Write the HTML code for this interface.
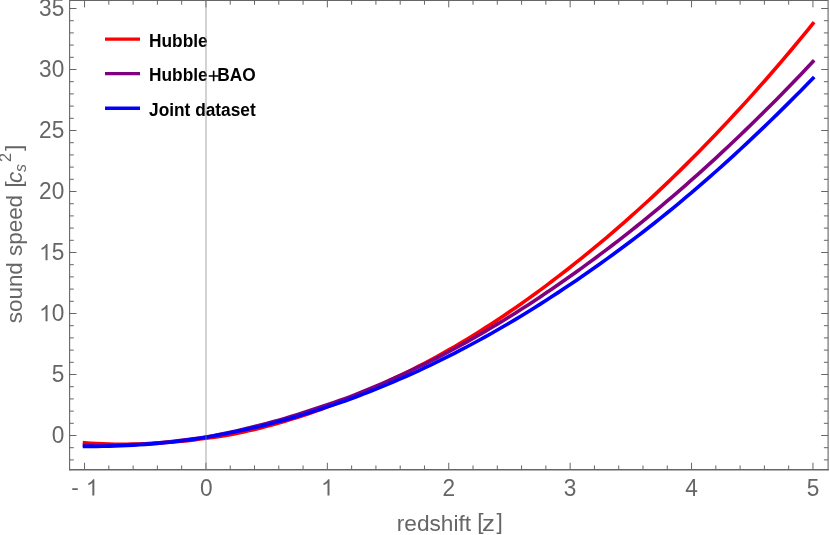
<!DOCTYPE html>
<html><head><meta charset="utf-8"><title>sound speed</title>
<style>html,body{margin:0;padding:0;background:#fff}svg{display:block;will-change:transform}text{font-family:"Liberation Sans",sans-serif}</style></head><body>
<svg width="830" height="535" viewBox="0 0 830 535">
<rect width="830" height="535" fill="#fff"/>
<polyline points="84.55,442.70 90.62,443.20 96.69,443.61 102.76,443.90 108.83,444.10 114.90,444.22 120.97,444.27 127.04,444.24 133.11,444.15 139.18,443.98 145.25,443.76 151.32,443.48 157.39,443.13 163.46,442.73 169.53,442.26 175.60,441.75 181.67,441.22 187.74,440.63 193.81,439.88 199.88,439.05 205.95,438.16 212.02,437.43 218.09,436.75 224.16,435.73 230.23,434.61 236.30,433.42 242.37,432.16 248.44,430.83 254.51,429.43 260.58,427.94 266.65,426.36 272.72,424.71 278.79,422.99 284.86,421.21 290.93,419.38 297.00,417.48 303.07,415.52 309.14,413.48 315.21,411.38 321.28,409.20 327.35,406.92 333.42,404.53 339.49,402.09 345.56,399.63 351.63,397.18 357.70,394.70 363.77,392.16 369.84,389.56 375.91,386.89 381.98,384.15 388.05,381.35 394.12,378.49 400.19,375.56 406.26,372.57 412.33,369.52 418.40,366.42 424.47,363.26 430.54,360.03 436.61,356.74 442.68,353.38 448.75,349.94 454.82,346.44 460.89,342.86 466.96,339.22 473.03,335.51 479.10,331.73 485.17,327.89 491.24,323.98 497.31,320.00 503.38,315.97 509.45,311.86 515.52,307.69 521.59,303.45 527.66,299.15 533.73,294.79 539.80,290.36 545.87,285.87 551.94,281.31 558.01,276.69 564.08,272.00 570.15,267.25 576.22,262.44 582.29,257.58 588.36,252.65 594.43,247.67 600.50,242.62 606.57,237.51 612.64,232.35 618.71,227.11 624.78,221.82 630.85,216.46 636.92,211.03 642.99,205.53 649.06,199.97 655.13,194.34 661.20,188.64 667.27,182.87 673.34,177.03 679.41,171.11 685.48,165.13 691.55,159.08 697.62,152.96 703.69,146.78 709.76,140.53 715.83,134.21 721.90,127.82 727.97,121.37 734.04,114.84 740.11,108.25 746.18,101.59 752.25,94.87 758.32,88.07 764.39,81.20 770.46,74.26 776.53,67.26 782.60,60.17 788.67,53.00 794.74,45.75 800.81,38.43 806.88,31.03 812.95,23.57" fill="none" stroke="#ff0000" stroke-width="3.6" stroke-linecap="square" stroke-linejoin="round"/>
<polyline points="84.55,445.32 90.62,445.43 96.69,445.48 102.76,445.48 108.83,445.42 114.90,445.30 120.97,445.13 127.04,444.91 133.11,444.63 139.18,444.29 145.25,443.90 151.32,443.46 157.39,442.95 163.46,442.40 169.53,441.78 175.60,441.12 181.67,440.39 187.74,439.61 193.81,438.78 199.88,437.91 205.95,436.95 212.02,435.91 218.09,434.81 224.16,433.64 230.23,432.34 236.30,430.95 242.37,429.50 248.44,428.01 254.51,426.53 260.58,425.01 266.65,423.44 272.72,421.81 278.79,420.13 284.86,418.38 290.93,416.57 297.00,414.69 303.07,412.76 309.14,410.77 315.21,408.75 321.28,406.69 327.35,404.66 333.42,402.63 339.49,400.56 345.56,398.40 351.63,396.11 357.70,393.71 363.77,391.25 369.84,388.74 375.91,386.16 381.98,383.54 388.05,380.88 394.12,378.18 400.19,375.45 406.26,372.67 412.33,369.86 418.40,366.99 424.47,364.07 430.54,361.09 436.61,358.05 442.68,354.94 448.75,351.75 454.82,348.49 460.89,345.18 466.96,341.81 473.03,338.39 479.10,334.91 485.17,331.38 491.24,327.80 497.31,324.16 503.38,320.46 509.45,316.71 515.52,312.91 521.59,309.05 527.66,305.14 533.73,301.18 539.80,297.17 545.87,293.10 551.94,288.98 558.01,284.80 564.08,280.58 570.15,276.30 576.22,271.97 582.29,267.60 588.36,263.17 594.43,258.70 600.50,254.18 606.57,249.61 612.64,244.99 618.71,240.31 624.78,235.59 630.85,230.81 636.92,225.98 642.99,221.09 649.06,216.15 655.13,211.15 661.20,206.10 667.27,200.99 673.34,195.82 679.41,190.60 685.48,185.31 691.55,179.97 697.62,174.58 703.69,169.12 709.76,163.61 715.83,158.05 721.90,152.43 727.97,146.75 734.04,141.02 740.11,135.24 746.18,129.40 752.25,123.51 758.32,117.57 764.39,111.57 770.46,105.52 776.53,99.43 782.60,93.27 788.67,87.05 794.74,80.78 800.81,74.45 806.88,68.06 812.95,61.63" fill="none" stroke="#800080" stroke-width="3.6" stroke-linecap="square" stroke-linejoin="round"/>
<polyline points="84.55,446.37 90.62,446.38 96.69,446.35 102.76,446.27 108.83,446.14 114.90,445.96 120.97,445.73 127.04,445.46 133.11,445.13 139.18,444.75 145.25,444.33 151.32,443.86 157.39,443.35 163.46,442.80 169.53,442.19 175.60,441.53 181.67,440.80 187.74,440.00 193.81,439.13 199.88,438.20 205.95,437.23 212.02,436.20 218.09,435.12 224.16,434.00 230.23,432.82 236.30,431.59 242.37,430.31 248.44,428.98 254.51,427.59 260.58,426.16 266.65,424.67 272.72,423.13 278.79,421.54 284.86,419.89 290.93,418.18 297.00,416.42 303.07,414.61 309.14,412.75 315.21,410.85 321.28,408.89 327.35,406.89 333.42,404.86 339.49,402.80 345.56,400.70 351.63,398.51 357.70,396.25 363.77,393.92 369.84,391.54 375.91,389.10 381.98,386.62 388.05,384.10 394.12,381.54 400.19,378.92 406.26,376.26 412.33,373.54 418.40,370.77 424.47,367.95 430.54,365.08 436.61,362.15 442.68,359.18 448.75,356.15 454.82,353.07 460.89,349.93 466.96,346.74 473.03,343.50 479.10,340.21 485.17,336.86 491.24,333.46 497.31,330.00 503.38,326.50 509.45,322.94 515.52,319.33 521.59,315.67 527.66,311.95 533.73,308.19 539.80,304.37 545.87,300.50 551.94,296.59 558.01,292.62 564.08,288.60 570.15,284.53 576.22,280.41 582.29,276.25 588.36,272.04 594.43,267.79 600.50,263.49 606.57,259.14 612.64,254.74 618.71,250.29 624.78,245.79 630.85,241.24 636.92,236.63 642.99,231.97 649.06,227.25 655.13,222.48 661.20,217.65 667.27,212.76 673.34,207.81 679.41,202.81 685.48,197.74 691.55,192.61 697.62,187.42 703.69,182.18 709.76,176.87 715.83,171.51 721.90,166.09 727.97,160.62 734.04,155.09 740.11,149.50 746.18,143.86 752.25,138.17 758.32,132.42 764.39,126.62 770.46,120.77 776.53,114.87 782.60,108.90 788.67,102.88 794.74,96.81 800.81,90.67 806.88,84.49 812.95,78.24" fill="none" stroke="#0000ff" stroke-width="3.6" stroke-linecap="square" stroke-linejoin="round"/>
<path d="M84.55 469.65v-6.9M84.55 0.5v6.9M108.83 469.65v-4.2M108.83 0.5v4.2M133.11 469.65v-4.2M133.11 0.5v4.2M157.39 469.65v-4.2M157.39 0.5v4.2M181.67 469.65v-4.2M181.67 0.5v4.2M205.95 469.65v-6.9M205.95 0.5v6.9M230.23 469.65v-4.2M230.23 0.5v4.2M254.51 469.65v-4.2M254.51 0.5v4.2M278.79 469.65v-4.2M278.79 0.5v4.2M303.07 469.65v-4.2M303.07 0.5v4.2M327.35 469.65v-6.9M327.35 0.5v6.9M351.63 469.65v-4.2M351.63 0.5v4.2M375.91 469.65v-4.2M375.91 0.5v4.2M400.19 469.65v-4.2M400.19 0.5v4.2M424.47 469.65v-4.2M424.47 0.5v4.2M448.75 469.65v-6.9M448.75 0.5v6.9M473.03 469.65v-4.2M473.03 0.5v4.2M497.31 469.65v-4.2M497.31 0.5v4.2M521.59 469.65v-4.2M521.59 0.5v4.2M545.87 469.65v-4.2M545.87 0.5v4.2M570.15 469.65v-6.9M570.15 0.5v6.9M594.43 469.65v-4.2M594.43 0.5v4.2M618.71 469.65v-4.2M618.71 0.5v4.2M642.99 469.65v-4.2M642.99 0.5v4.2M667.27 469.65v-4.2M667.27 0.5v4.2M691.55 469.65v-6.9M691.55 0.5v6.9M715.83 469.65v-4.2M715.83 0.5v4.2M740.11 469.65v-4.2M740.11 0.5v4.2M764.39 469.65v-4.2M764.39 0.5v4.2M788.67 469.65v-4.2M788.67 0.5v4.2M812.95 469.65v-6.9M812.95 0.5v6.9M69.6 459.90h4.2M828.1 459.90h-4.2M69.6 447.70h4.2M828.1 447.70h-4.2M69.6 435.50h6.9M828.1 435.50h-6.9M69.6 423.30h4.2M828.1 423.30h-4.2M69.6 411.10h4.2M828.1 411.10h-4.2M69.6 398.90h4.2M828.1 398.90h-4.2M69.6 386.70h4.2M828.1 386.70h-4.2M69.6 374.50h6.9M828.1 374.50h-6.9M69.6 362.30h4.2M828.1 362.30h-4.2M69.6 350.10h4.2M828.1 350.10h-4.2M69.6 337.90h4.2M828.1 337.90h-4.2M69.6 325.70h4.2M828.1 325.70h-4.2M69.6 313.50h6.9M828.1 313.50h-6.9M69.6 301.30h4.2M828.1 301.30h-4.2M69.6 289.10h4.2M828.1 289.10h-4.2M69.6 276.90h4.2M828.1 276.90h-4.2M69.6 264.70h4.2M828.1 264.70h-4.2M69.6 252.50h6.9M828.1 252.50h-6.9M69.6 240.30h4.2M828.1 240.30h-4.2M69.6 228.10h4.2M828.1 228.10h-4.2M69.6 215.90h4.2M828.1 215.90h-4.2M69.6 203.70h4.2M828.1 203.70h-4.2M69.6 191.50h6.9M828.1 191.50h-6.9M69.6 179.30h4.2M828.1 179.30h-4.2M69.6 167.10h4.2M828.1 167.10h-4.2M69.6 154.90h4.2M828.1 154.90h-4.2M69.6 142.70h4.2M828.1 142.70h-4.2M69.6 130.50h6.9M828.1 130.50h-6.9M69.6 118.30h4.2M828.1 118.30h-4.2M69.6 106.10h4.2M828.1 106.10h-4.2M69.6 93.90h4.2M828.1 93.90h-4.2M69.6 81.70h4.2M828.1 81.70h-4.2M69.6 69.50h6.9M828.1 69.50h-6.9M69.6 57.30h4.2M828.1 57.30h-4.2M69.6 45.10h4.2M828.1 45.10h-4.2M69.6 32.90h4.2M828.1 32.90h-4.2M69.6 20.70h4.2M828.1 20.70h-4.2M69.6 8.50h6.9M828.1 8.50h-6.9" stroke="#666666" stroke-width="1" fill="none"/>
<path d="M69.05 0.5H828.65M69.6 0.5V470.25M828.1 0.5V470.25" stroke="#666666" stroke-width="1.1" fill="none"/>
<path d="M69.05 469.75H828.65" stroke="#666666" stroke-width="1.3" fill="none"/>
<text transform="translate(64.3,443.30) scale(1,1.035)" font-size="22.67" fill="#666666" text-anchor="end">0</text>
<text transform="translate(64.3,382.30) scale(1,1.035)" font-size="22.67" fill="#666666" text-anchor="end">5</text>
<path transform="translate(39.08,321.30) scale(0.01107,-0.01107)" d="M763 0H583V1147Q518 1085 412.5 1023T223 930V1104Q373 1174.5 485.25 1274.75T644 1472H763Z" fill="#666666"/>
<text transform="translate(64.3,321.30) scale(1,1.035)" font-size="22.67" fill="#666666" text-anchor="end">0</text>
<path transform="translate(39.08,260.30) scale(0.01107,-0.01107)" d="M763 0H583V1147Q518 1085 412.5 1023T223 930V1104Q373 1174.5 485.25 1274.75T644 1472H763Z" fill="#666666"/>
<text transform="translate(64.3,260.30) scale(1,1.035)" font-size="22.67" fill="#666666" text-anchor="end">5</text>
<text transform="translate(64.3,199.30) scale(1,1.035)" font-size="22.67" fill="#666666" text-anchor="end">20</text>
<text transform="translate(64.3,138.30) scale(1,1.035)" font-size="22.67" fill="#666666" text-anchor="end">25</text>
<text transform="translate(64.3,77.30) scale(1,1.035)" font-size="22.67" fill="#666666" text-anchor="end">30</text>
<text transform="translate(64.3,16.30) scale(1,1.035)" font-size="22.67" fill="#666666" text-anchor="end">35</text>
<text transform="translate(206.35,495.5) scale(1,1.035)" font-size="22.67" fill="#666666" text-anchor="middle">0</text>
<path transform="translate(321.05,495.50) scale(0.01107,-0.01107)" d="M763 0H583V1147Q518 1085 412.5 1023T223 930V1104Q373 1174.5 485.25 1274.75T644 1472H763Z" fill="#666666"/>
<text transform="translate(448.75,495.5) scale(1,1.035)" font-size="22.67" fill="#666666" text-anchor="middle">2</text>
<text transform="translate(570.15,495.5) scale(1,1.035)" font-size="22.67" fill="#666666" text-anchor="middle">3</text>
<text transform="translate(691.55,495.5) scale(1,1.035)" font-size="22.67" fill="#666666" text-anchor="middle">4</text>
<text transform="translate(812.95,495.5) scale(1,1.035)" font-size="22.67" fill="#666666" text-anchor="middle">5</text>
<text x="71.2" y="495.0" font-size="22.67" fill="#666666">-</text>
<path transform="translate(85.90,495.50) scale(0.01107,-0.01107)" d="M763 0H583V1147Q518 1085 412.5 1023T223 930V1104Q373 1174.5 485.25 1274.75T644 1472H763Z" fill="#666666"/>
<text x="396.8" y="530.7" font-size="22.67" fill="#666666">redshift</text>
<text transform="translate(477.35,529.4) scale(1,0.945)" font-size="22.67" fill="#666666">[</text>
<text transform="translate(482.1,530.7) scale(1.14,1)" font-size="22.67" fill="#666666">z</text>
<text transform="translate(496.45,529.4) scale(1,0.945)" font-size="22.67" fill="#666666">]</text>
<g transform="translate(22.2,323.2) rotate(-90)" fill="#666666"><text x="0" y="0" font-size="22.4">sound speed</text><text transform="translate(135.6,-1.7) scale(1,0.945)" font-size="22.67">[</text><text x="140.2" y="0" font-size="22.67" font-style="italic">c</text><text x="151.2" y="4" font-size="16.1" font-style="italic">s</text><text transform="translate(161.3,-11.1) scale(1,1.04)" font-size="16.1">2</text><text transform="translate(172.2,-1.7) scale(1,0.945)" font-size="22.67">]</text></g>
<line x1="105.0" y1="39.1" x2="140.0" y2="39.1" stroke="#ff0000" stroke-width="3.4"/>
<text transform="translate(149.0,46.8) scale(1,1.04)" font-size="17.33" font-weight="bold" fill="#000">Hubble</text>
<line x1="105.0" y1="73.65" x2="140.0" y2="73.65" stroke="#800080" stroke-width="3.4"/>
<text transform="translate(149.0,81.4) scale(1,1.04)" font-size="17.33" font-weight="bold" fill="#000">Hubble</text>
<path d="M208.7 76.05H218.6M213.65 70.65V81.15" stroke="#000" stroke-width="1.6" fill="none"/>
<text transform="translate(217.35,81.4) scale(1,1.04)" font-size="17.33" font-weight="bold" fill="#000">BAO</text>
<line x1="105.0" y1="108.3" x2="140.0" y2="108.3" stroke="#0000ff" stroke-width="3.4"/>
<text transform="translate(149.0,116.0) scale(1,1.04)" font-size="17.33" font-weight="bold" fill="#000">Joint dataset</text>
<line x1="206.00" y1="0.5" x2="206.00" y2="469.65" stroke="#808080" stroke-opacity="0.36" stroke-width="1.9"/>
</svg></body></html>
